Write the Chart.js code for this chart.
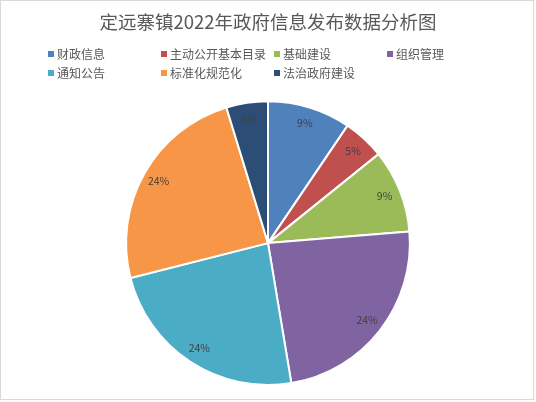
<!DOCTYPE html>
<html>
<head>
<meta charset="utf-8">
<script src="https://cdn.jsdelivr.net/npm/chart.js@4"></script>
<style>
  html, body { margin: 0; padding: 0; background: #fff; }
  #wrap { width: 536px; height: 402px; position: relative; }
</style>
</head>
<body>
<div id="wrap"><canvas id="pieChart"></canvas></div>
<script>
// 数据
const chartTitle = "定远寨镇2022年政府信息发布数据分析图";
const categories = ["财政信息", "主动公开基本目录", "基础建设", "组织管理", "通知公告", "标准化规范化", "法治政府建设"];
const counts = [18, 9, 18, 45, 45, 46, 9];
const sliceColors = ["#4F81BD", "#C0504D", "#9BBB59", "#8064A2", "#4BACC6", "#F79646", "#2C4D75"];

const FONT = "'Noto Sans CJK SC', 'Noto Sans', sans-serif";

// 边框 + 图例(四列网格)
const frameLegend = {
  id: "frameLegend",
  afterDraw(chart) {
    const ctx = chart.ctx;
    ctx.save();
    ctx.strokeStyle = "#d9d9d9";
    ctx.lineWidth = 1;
    ctx.strokeRect(0.5, 0.5, 533, 399);

    const colX = [48, 161, 274, 387];
    const rowY = [54, 73];
    ctx.font = "12px " + FONT;
    ctx.textBaseline = "middle";
    ctx.textAlign = "left";
    categories.forEach((name, i) => {
      const x = colX[i % 4];
      const y = rowY[Math.floor(i / 4)];
      ctx.fillStyle = sliceColors[i];
      ctx.fillRect(x, y - 3, 6, 6);
      ctx.fillStyle = "#595959";
      ctx.fillText(name, x + 9, y);
    });
    ctx.restore();
  }
};

// 百分比标签(靠外侧)
const pctLabels = {
  id: "pctLabels",
  afterDatasetsDraw(chart) {
    const ctx = chart.ctx;
    const meta = chart.getDatasetMeta(0);
    const total = counts.reduce((a, b) => a + b, 0);
    ctx.save();
    ctx.font = "10.5px " + FONT;
    ctx.fillStyle = "#404040";
    ctx.textAlign = "center";
    ctx.textBaseline = "middle";
    meta.data.forEach((arc, i) => {
      const p = arc.getProps(["x", "y", "startAngle", "endAngle", "outerRadius"], true);
      const mid = (p.startAngle + p.endAngle) / 2;
      const r = p.outerRadius * 0.885;
      const pct = Math.round(counts[i] / total * 100) + "%";
      ctx.fillText(pct, p.x + Math.cos(mid) * r, p.y + Math.sin(mid) * r);
    });
    ctx.restore();
  }
};

new Chart(document.getElementById("pieChart"), {
  type: "pie",
  data: {
    labels: categories,
    datasets: [{
      data: counts,
      backgroundColor: sliceColors,
      borderColor: "#ffffff",
      borderWidth: 2
    }]
  },
  options: {
    responsive: true,
    maintainAspectRatio: false,
    animation: false,
    layout: { padding: { top: 0, bottom: 16, left: 0, right: 0 } },
    plugins: {
      legend: { display: false },
      tooltip: { enabled: false },
      title: {
        display: true,
        text: chartTitle,
        color: "#595959",
        font: { family: FONT, size: 18.5, weight: "normal", lineHeight: 1.2 },
        padding: { top: 11, bottom: 67 }
      }
    }
  },
  plugins: [frameLegend, pctLabels]
});
</script>
</body>
</html>
